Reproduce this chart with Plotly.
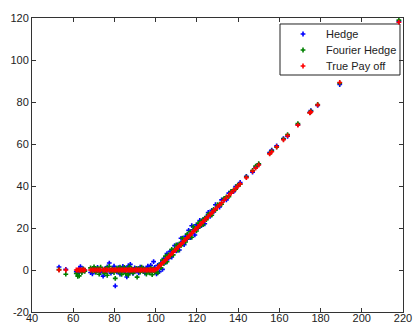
import plotly.graph_objects as go

# Underlying price at expiry
spot = [53.1, 56.4, 61.5, 62.2, 62.9, 63.5, 64.2, 64.9, 65.6, 68.4, 69.3, 70.1, 71.0, 71.8,
        72.6, 73.3, 74.5, 75.2, 76.0, 76.5, 77.5, 78.3, 79.0, 79.8, 80.4, 81.2, 82.0, 82.7,
        83.5, 84.1, 84.8, 85.5, 86.0, 86.7, 87.3, 87.7, 88.4, 89.0, 89.8, 90.5, 91.0, 91.8,
        92.5, 93.2, 94.0, 94.8, 95.5, 96.2, 97.0, 97.6, 98.3, 99.0, 99.6,
        100.4, 101.0, 101.8, 102.5, 103.3, 104.0, 104.8, 105.5, 106.3, 107.0, 107.8, 108.5,
        109.2, 110.0, 110.8, 111.5, 112.3, 113.0, 113.8, 114.5, 115.3, 116.0, 116.8, 117.5,
        118.3, 119.0, 119.8, 120.6, 121.4, 122.2, 123.0, 123.8, 124.6, 125.5, 126.4, 127.2,
        128.1, 129.0, 130.0, 131.0, 132.0, 133.2, 134.3, 135.5, 136.6, 137.8, 138.8, 139.8,
        141.0, 144.0, 147.0, 148.5, 150.0, 155.3, 156.3, 158.7, 162.0, 164.0, 169.0, 174.8,
        175.3, 178.6, 189.3, 218.0]

# Replicating portfolio value
hedge = [1.4, 0.3, -0.8, -1.5, 0.6, 1.6, -0.5, 0.4, -0.2, -1.2, -1.8, 0.9, -0.6, 1.2,
         0.3, -1.0, -2.9, 0.5, -0.8, 1.5, 3.3, -1.5, 0.6, 1.8, -7.6, -0.9, 1.1, -1.9,
         0.4, 1.7, -0.7, 0.8, -3.3, 1.9, -1.2, 2.7, 0.2, -1.6, 1.0, -0.4, 0.7, -1.3,
         1.4, -0.2, 0.9, -1.5, 0.6, 1.8, -0.9, 2.2, 0.3, 4.0, 1.2,
         -1.8, 2.2, -0.8, 3.3, 0.3, 5.5, 3.6, 7.8, 5.5, 8.9, 6.2, 9.1,
         11.6, 9.1, 12.1, 9.5, 15.1, 13.4, 12.1, 16.1, 14.7, 18.9, 15.4, 21.1,
         19.2, 16.7, 21.5, 20.1, 23.6, 21.1, 24.0, 22.0, 25.3, 27.4, 25.6, 28.4,
         27.7, 31.1, 30.5, 30.0, 33.4, 33.5, 33.4, 36.6, 37.2, 37.3, 39.7, 40.0,
         41.7, 44.6, 46.6, 49.0, 50.3, 55.9, 57.1, 59.1, 62.6, 63.7, 69.2, 75.1,
         75.9, 78.4, 88.3, 118.4]

# Fourier-based hedge value
fourier_hedge = [0.2, -2.0, -1.7, -3.0, -2.8, -0.4, -1.2, 0.5, -0.6, 1.0, -0.5, 1.5, -1.1, 0.8,
                 -2.0, 1.3, -0.3, -1.5, 0.9, -2.5, 1.7, -0.7, 0.4, -1.2, -4.0, 0.9, -0.8, 1.4,
                 -2.1, -0.5, 1.2, -1.8, 0.3, -2.4, 1.6, -0.9, 0.5, -1.4, -0.6, 0.8, -3.4, 0.6,
                 -1.0, 1.3, -0.7, 0.4, -1.9, 0.2, -1.3, 0.9, -2.2, 0.5, -1.0,
                 -0.6, -1.4, 2.4, 1.0, 4.7, 3.1, 6.6, 3.9, 7.3, 6.4, 9.8, 7.2,
                 9.9, 11.9, 9.3, 12.4, 11.6, 15.2, 14.3, 13.3, 17.1, 15.6, 18.3, 15.6,
                 20.7, 19.6, 18.6, 22.2, 20.7, 23.4, 21.6, 24.7, 24.0, 26.5, 26.8, 26.1,
                 28.9, 28.5, 31.1, 31.4, 31.3, 34.1, 34.8, 34.9, 37.4, 38.2, 38.5, 40.4,
                 40.8, 44.3, 47.4, 49.5, 50.6, 55.5, 56.7, 58.5, 62.3, 64.5, 69.7, 74.9,
                 75.6, 78.8, 89.0, 119.0]

# Call option payoff at expiry
true_payoff = [0, 0, 0, 0, 0, 0, 0, 0, 0, 0, 0, 0, 0, 0,
               0, 0, 0, 0, 0, 0, 0, 0, 0, 0, 0, 0, 0, 0,
               0, 0, 0, 0, 0, 0, 0, 0, 0, 0, 0, 0, 0, 0,
               0, 0, 0, 0, 0, 0, 0, 0, 0, 0, 0,
               0.4, 1.0, 1.8, 2.5, 3.3, 4.0, 4.8, 5.5, 6.3, 7.0, 7.8, 8.5,
               9.2, 10.0, 10.8, 11.5, 12.3, 13.0, 13.8, 14.5, 15.3, 16.0, 16.8, 17.5,
               18.3, 19.0, 19.8, 20.6, 21.4, 22.2, 23.0, 23.8, 24.6, 25.5, 26.4, 27.2,
               28.1, 29.0, 30.0, 31.0, 32.0, 33.2, 34.3, 35.5, 36.6, 37.8, 38.8, 39.8,
               41.0, 44.0, 47.0, 48.5, 50.0, 55.3, 56.3, 58.7, 62.0, 64.0, 69.0, 74.8,
               75.3, 78.6, 89.3, 118.0]

x_ticks = [40, 60, 80, 100, 120, 140, 160, 180, 200, 220]
y_ticks = [-20, 0, 20, 40, 60, 80, 100, 120]

series_names = ["Hedge", "Fourier Hedge", "True Pay off"]
series_values = [hedge, fourier_hedge, true_payoff]
series_colors = ["#0000ff", "#008000", "#ff0000"]

FONT = "Liberation Sans, Arial, sans-serif"
INK = "#222222"
MARKER = dict(symbol="cross", size=4, line=dict(width=0))

fig = go.Figure()
for name, values, color in zip(series_names, series_values, series_colors):
    fig.add_trace(go.Scatter(
        x=spot, y=values, mode="markers", name=name, showlegend=False,
        marker=dict(MARKER, color=color),
    ))

axis_common = dict(
    showgrid=False, zeroline=False, showline=True, linecolor="#333333", linewidth=1,
    mirror="ticks", ticks="inside", ticklen=4, tickcolor="#333333", automargin=False,
    tickfont=dict(family=FONT, size=11, color=INK),
)
fig.update_xaxes(range=[40, 220], tickvals=x_ticks, ticktext=[str(t) for t in x_ticks],
                 ticklabelstandoff=-4, **axis_common)
fig.update_yaxes(range=[-20, 120], tickvals=y_ticks, ticktext=[str(t) for t in y_ticks],
                 **axis_common)

# Boxed legend in the upper-right corner, drawn on an overlay axis in paper units
legend_left, legend_right = 0.6685, 0.9919
legend_top, legend_bottom = 0.9796, 0.8061
row_y = [0.9456, 0.8912, 0.8367]
marker_x = 0.7305
text_x = 0.7871

fig.add_shape(type="rect", xref="paper", yref="paper",
              x0=legend_left, x1=legend_right, y0=legend_bottom, y1=legend_top,
              line=dict(color=INK, width=1), fillcolor="white", layer="below")
fig.add_trace(go.Scatter(
    x=[marker_x] * 3, y=row_y, mode="markers", showlegend=False, hoverinfo="skip",
    xaxis="x2", yaxis="y2", marker=dict(MARKER, color=series_colors),
))
for name, ry in zip(series_names, row_y):
    fig.add_annotation(x=text_x, y=ry, xref="paper", yref="paper", text=name,
                       showarrow=False, xanchor="left", yanchor="middle",
                       font=dict(family=FONT, size=11, color=INK))

fig.update_layout(
    width=413, height=323,
    margin=dict(l=32, r=10, t=18, b=11),
    paper_bgcolor="white", plot_bgcolor="white",
    font=dict(family=FONT, size=11, color=INK),
    xaxis2=dict(overlaying="x", range=[0, 1], visible=False, fixedrange=True),
    yaxis2=dict(overlaying="y", range=[0, 1], visible=False, fixedrange=True),
)

fig.write_html("out.html")
